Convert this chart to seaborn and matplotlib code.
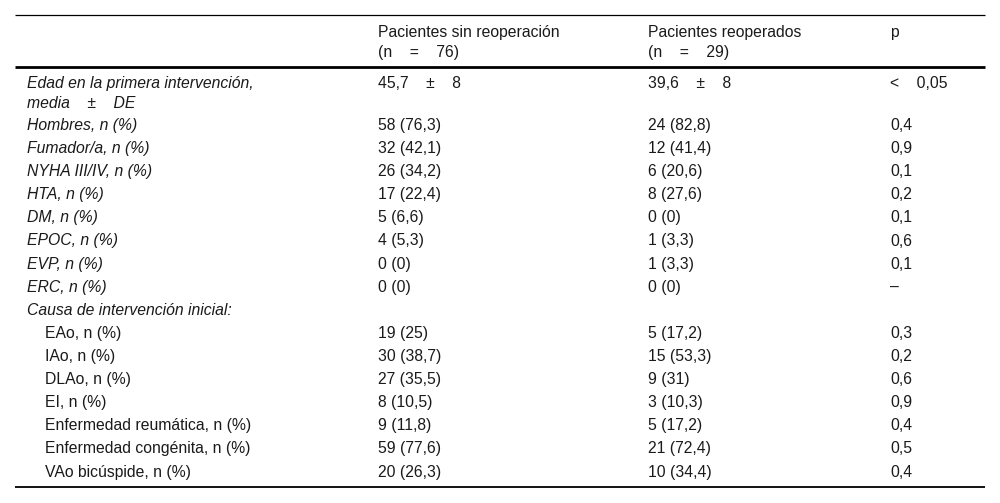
import matplotlib
matplotlib.use('Agg')
import matplotlib.pyplot as plt
import seaborn as sns

sns.set_theme(style='white')
plt.rcParams['font.family'] = ['Liberation Sans', 'DejaVu Sans']

# table contents
headers = ['', 'Pacientes sin reoperación\n(n    =    76)', 'Pacientes reoperados\n(n    =    29)', 'p']
labels = ['Edad en la primera intervención,\nmedia    ±    DE', 'Hombres, n (%)', 'Fumador/a, n (%)',
          'NYHA III/IV, n (%)', 'HTA, n (%)', 'DM, n (%)', 'EPOC, n (%)', 'EVP, n (%)', 'ERC, n (%)',
          'Causa de intervención inicial:', 'EAo, n (%)', 'IAo, n (%)', 'DLAo, n (%)', 'EI, n (%)',
          'Enfermedad reumática, n (%)', 'Enfermedad congénita, n (%)', 'VAo bicúspide, n (%)']
sin_reop = ['45,7    ±    8', '58 (76,3)', '32 (42,1)', '26 (34,2)', '17 (22,4)', '5 (6,6)', '4 (5,3)',
            '0 (0)', '0 (0)', '', '19 (25)', '30 (38,7)', '27 (35,5)', '8 (10,5)', '9 (11,8)',
            '59 (77,6)', '20 (26,3)']
reop = ['39,6    ±    8', '24 (82,8)', '12 (41,4)', '6 (20,6)', '8 (27,6)', '0 (0)', '1 (3,3)',
        '1 (3,3)', '0 (0)', '', '5 (17,2)', '15 (53,3)', '9 (31)', '3 (10,3)', '5 (17,2)',
        '21 (72,4)', '10 (34,4)']
p_vals = ['<    0,05', '0,4', '0,9', '0,1', '0,2', '0,1', '0,6', '0,1', '–', '', '0,3', '0,2', '0,6',
          '0,9', '0,4', '0,5', '0,4']
sub_item = [False] * 10 + [True] * 7

fig = plt.figure(figsize=(10, 5.03), dpi=100)
ax = fig.add_axes([0, 0, 1, 1])
ax.set_xlim(0, 1000)
ax.set_ylim(503, 0)
ax.axis('off')

col_x = [27, 378, 648, 890]
fs = 11.3
ink = '#1a1a1a'
line_gap = 19.5


def put(x, y, s, **kw):
    for k, part in enumerate(s.split('\n')):
        ax.text(x, y + k * line_gap, part, ha='left', va='center_baseline', fontsize=fs,
                color=ink, **kw)


# rules
ax.hlines(15, 15, 985, color='black', lw=0.9)
ax.hlines(67, 15, 985, color='black', lw=2.0)
ax.hlines(487, 15, 985, color='black', lw=1.3)

# header
for x, h in zip(col_x, headers):
    if h:
        put(x, 31, h)

# body
y = 82
for lab, a, b, p, sub in zip(labels, sin_reop, reop, p_vals, sub_item):
    if sub:
        put(col_x[0] + 18, y, lab)
    else:
        put(col_x[0], y, lab, style='italic')
    for x, v in zip(col_x[1:], [a, b, p]):
        put(x, y, v)
    y += 42 if '\n' in lab else 23.1

fig.savefig('out.png', dpi=100)
